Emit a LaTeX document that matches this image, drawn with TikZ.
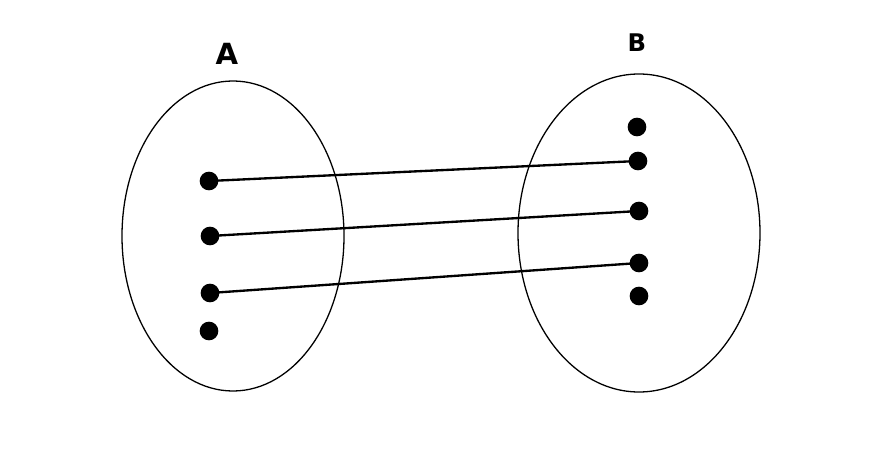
\documentclass[tikz,border=0pt]{standalone}
\usepackage{fontspec}
\setmainfont{DejaVu Sans}
\begin{document}
\begin{tikzpicture}[x=0.03cm,y=-0.03cm]
\useasboundingbox (0,0) rectangle (888,452);
%sets
        \draw [line width=1.1pt] (233,236) ellipse [x radius=111,y radius=155];
        \draw [line width=1.1pt] (639,233) ellipse [x radius=121,y radius=159];
        \node[font=\bfseries\Huge] (la) at (227,54) {A};
        \node[font=\bfseries\huge] (lb) at (637,43) {B};
%elements
        \node[circle,fill=black,minimum size=0.56cm,inner sep=0] (a1) at (209,181) {};
        \node[circle,fill=black,minimum size=0.56cm,inner sep=0] (a2) at (210,236) {};
        \node[circle,fill=black,minimum size=0.56cm,inner sep=0] (a3) at (210,293) {};
        \node[circle,fill=black,minimum size=0.56cm,inner sep=0] (a4) at (209,331) {};
        \node[circle,fill=black,minimum size=0.56cm,inner sep=0] (b1) at (637,127) {};
        \node[circle,fill=black,minimum size=0.56cm,inner sep=0] (b2) at (638,161) {};
        \node[circle,fill=black,minimum size=0.56cm,inner sep=0] (b3) at (639,211) {};
        \node[circle,fill=black,minimum size=0.56cm,inner sep=0] (b4) at (639,263) {};
        \node[circle,fill=black,minimum size=0.56cm,inner sep=0] (b5) at (639,296) {};
%map
        \draw [line width=2pt] (a1.center) -- (b2.center);
        \draw [line width=2pt] (a2.center) -- (b3.center);
        \draw [line width=2pt] (a3.center) -- (b4.center);
\end{tikzpicture}
\end{document}
